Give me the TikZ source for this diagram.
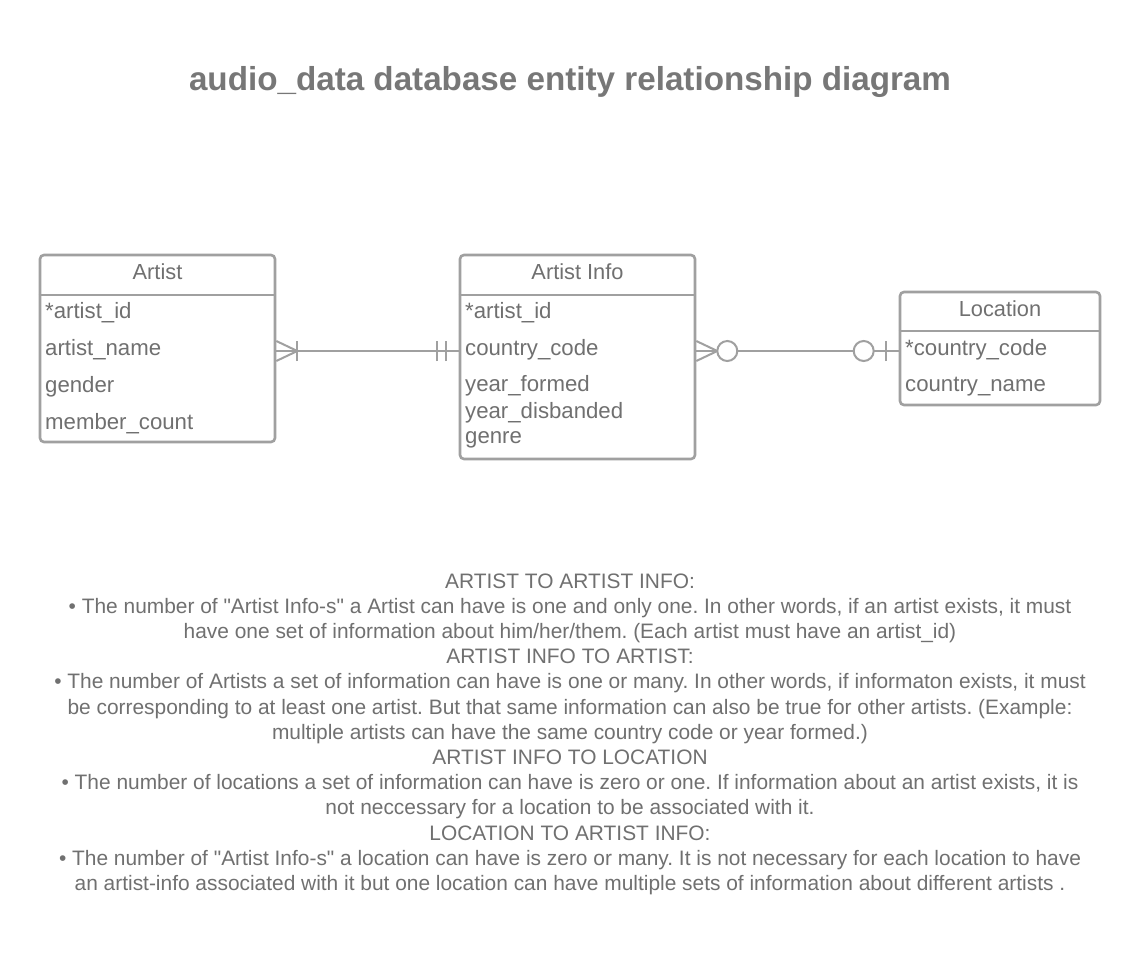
\documentclass[tikz,border=0pt]{standalone}
\usepackage{fontspec}
\setmainfont{Liberation Sans}[Ligatures=TeXOff]
\definecolor{edge}{HTML}{A0A0A0}
\definecolor{txt}{HTML}{707070}
\definecolor{ttl}{HTML}{777777}
\frenchspacing
\begin{document}
\begin{tikzpicture}[x=1pt,y=-1pt,
  tbl/.style={draw=edge, line width=2.6pt, rounded corners=4pt, fill=white, inner sep=0pt},
  hdr/.style={text=txt, font=\fontsize{21.8}{24}\selectfont, inner sep=0pt},
  fld/.style={text=txt, font=\fontsize{22.2}{24}\selectfont, anchor=west, inner sep=0pt},
  rel/.style={draw=edge, line width=2pt},
  body/.style={text=txt, font=\fontsize{20.9}{25.17}\selectfont, align=center, inner sep=0pt}]
\useasboundingbox (0,0) rectangle (1140,956);
\fill[white] (0,0) rectangle (1140,956);

\node[text=ttl, font=\fontsize{33.2}{38}\bfseries\selectfont] (title) at (570,82) {audio\_data database entity relationship diagram};

% Artist
\node[tbl, minimum width=235pt, minimum height=187pt] (artist) at (157.5,348.5) {};
\draw[draw=edge, line width=2.6pt] (artist.west |- 0,295) -- (artist.east |- 0,295);
\node[hdr] (artistH) at (157.5,272) {Artist};
\node[fld] (a1) at (45,312.5) {*artist\_id};
\node[fld] (a2) at (45,349.5) {artist\_name};
\node[fld] (a3) at (45,386.5) {gender};
\node[fld] (a4) at (45,423.5) {member\_count};

% Artist Info
\node[tbl, minimum width=235pt, minimum height=204pt] (info) at (577.5,357) {};
\draw[draw=edge, line width=2.6pt] (info.west |- 0,295) -- (info.east |- 0,295);
\node[hdr] (infoH) at (577.5,272) {Artist Info};
\node[fld] (i1) at (465,312.5) {*artist\_id};
\node[fld] (i2) at (465,349.5) {country\_code};
\node[fld] (i3) at (465,385.5) {year\_formed};
\node[fld] (i4) at (465,412.5) {year\_disbanded};
\node[fld] (i5) at (465,439.5) {genre};

% Location
\node[tbl, minimum width=200pt, minimum height=113pt] (loc) at (1000,348.5) {};
\draw[draw=edge, line width=2.6pt] (loc.west |- 0,331) -- (loc.east |- 0,331);
\node[hdr] (locH) at (1000,309) {Location};
\node[fld] (l1) at (905,349.5) {*country\_code};
\node[fld] (l2) at (905,386.5) {country\_name};

% Artist -- Artist Info
\coordinate (r1a) at (artist.east |- 0,351);
\coordinate (r1b) at (info.west |- 0,351);
\draw[rel] (r1a) -- (r1b);
\draw[rel] ([yshift=-10pt]r1a) -- ([xshift=21pt]r1a) -- ([yshift=10pt]r1a);
\draw[rel] ([xshift=21pt,yshift=-10pt]r1a) -- ([xshift=21pt,yshift=10pt]r1a);
\draw[rel] ([xshift=-13pt,yshift=-10pt]r1b) -- ([xshift=-13pt,yshift=10pt]r1b);
\draw[rel] ([xshift=-22pt,yshift=-10pt]r1b) -- ([xshift=-22pt,yshift=10pt]r1b);

% Artist Info -- Location
\coordinate (r2a) at (info.east |- 0,351);
\coordinate (r2b) at (loc.west |- 0,351);
\draw[rel] (r2a) -- (r2b);
\draw[rel] ([yshift=-10pt]r2a) -- ([xshift=21pt]r2a) -- ([yshift=10pt]r2a);
\draw[rel, fill=white] ([xshift=31pt]r2a) circle (10pt);
\draw[rel, fill=white] ([xshift=-35pt]r2b) circle (10pt);
\draw[rel] ([xshift=-13pt,yshift=-10pt]r2b) -- ([xshift=-13pt,yshift=10pt]r2b);

% Notes
\node[body, anchor=north] (notes) at (570,573.5) {%
ARTIST TO ARTIST INFO:\\
• The number of "Artist Info-s" a Artist can have is one and only one. In other words, if an artist exists, it must\\
have one set of information about him/her/them. (Each artist must have an artist\_id)\\
ARTIST INFO TO ARTIST:\\
• The number of Artists a set of information can have is one or many. In other words, if informaton exists, it must\\
be corresponding to at least one artist. But that same information can also be true for other artists. (Example:\\
multiple artists can have the same country code or year formed.)\\
ARTIST INFO TO LOCATION\\
• The number of locations a set of information can have is zero or one. If information about an artist exists, it is\\
not neccessary for a location to be associated with it.\\
LOCATION TO ARTIST INFO:\\
• The number of "Artist Info-s" a location can have is zero or many. It is not necessary for each location to have\\
an artist-info associated with it but one location can have multiple sets of information about different artists .};
\end{tikzpicture}
\end{document}
